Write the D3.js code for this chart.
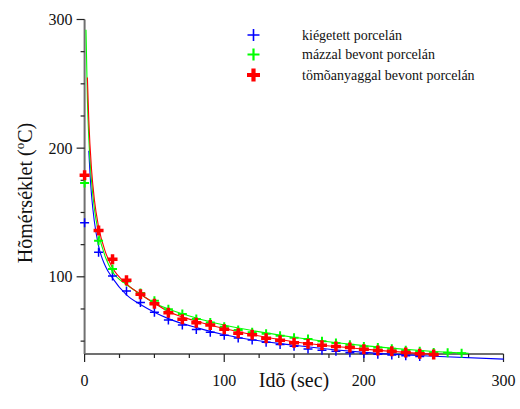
<!DOCTYPE html>
<html><head><meta charset="utf-8">
<script src="https://cdn.jsdelivr.net/npm/d3@7"></script>
<style>html,body{margin:0;padding:0;background:#fff}</style>
</head><body>
<svg id="c" width="520" height="409"></svg>
<script>
// ---- data ----
const seriesNames = ["kiégetett porcelán", "mázzal bevont porcelán", "tömõanyaggal bevont porcelán"];
const blueT = [0,10,20,30,40,50,60,70,80,90,100,110,120,130,140,150,160,170,180,190,200,210,220,230,240];
const blueV = [142,119,100.7,89,80,72.5,66.5,62.5,59,57,54.5,52.4,50.8,49.2,47.3,46,43.8,43,42.2,41,40.3,39.8,39.2,38.6,38];
const greenT = [0,10,20,30,40,50,60,70,80,90,100,110,120,130,140,150,160,170,180,190,200,210,220,230,240,250,260,270];
const greenV = [173,128,106,96.4,87.5,81.3,74.8,71,67.3,64.4,61.2,58.6,57,55.7,54.1,52.6,51.6,49.9,48.6,47.1,45.9,45,44.1,42.9,42.2,41.2,40.9,40.5];
const redT = [0,10,20,30,40,50,60,70,80,90,100,110,120,130,140,150,160,170,180,190,200,210,220,230,240,250];
const redV = [179,136,113.7,97.4,86.5,79,72,67,64.3,62.5,59.3,56.1,55,52.2,50.6,48.7,48,46.8,45.9,45.1,43.6,42.8,42.2,41.2,40.2,39.6];
// fitted curves
const blueCurveT = [3,4,5,7,10,15,20,30,40,50,60,80,100,150,200,250,300];
const blueCurveV = [198,178,163,143,124,108,99,86,78.5,72.5,67.5,60.5,55,46.8,41.3,38.3,36];
const greenCurveT = [1,2,3,5,7,10,15,20,30,40,50,60,80,100,150,200,250,275];
const greenCurveV = [292,238,208,174,153,134,115,104,94,86.5,79.5,75,68,62.5,53,46.5,42,40.5];
const redCurveT = [2,3,5,7,10,15,20,30,40,50,60,80,100,150,200,250];
const redCurveV = [255,222,183,160,139,119,107,94.5,86.5,79.5,73,65.5,59.8,49.5,43.8,39.8];
const xTickLabels = [0,100,200,300];
const yTickLabels = [100,200,300];
const xTitle = "Idõ (sec)";
const yTitleMain = "Hõmérséklet (";
const yTitleSup = "o";
const yTitleEnd = "C)";

// ---- drawing ----
const svg = d3.select("#c");
const font = "'Liberation Serif','Times New Roman',serif";
const x = d3.scaleLinear().domain([0,300]).range([84.6,503.5]);
const y = d3.scaleLinear().domain([40,300]).range([354,19.5]);

const styles = [
  {color:"#0000ff", w:1.5, size:4.5, lw:1.6, lsize:6},
  {color:"#00ff00", w:2, size:4.5, lw:2.2, lsize:6},
  {color:"#ff0000", w:3.5, size:5, lw:4.2, lsize:6.5}
];
const pts = [[blueT,blueV],[greenT,greenV],[redT,redV]];
const curves = [[blueCurveT,blueCurveV],[greenCurveT,greenCurveV],[redCurveT,redCurveV]];

// axes
const xAxisG = svg.append("g");
const yAxisG = svg.append("g");
const minorX = d3.range(0,301,25);
const minorY = d3.range(50,301,25);
yAxisG.append("line").attr("x1",x(0)).attr("x2",x(0)).attr("y1",y(40)).attr("y2",y(300))
  .attr("stroke","#707070").attr("stroke-width",2);
xAxisG.append("line").attr("x1",x(0)).attr("x2",x(300)).attr("y1",y(40)).attr("y2",y(40))
  .attr("stroke","#707070").attr("stroke-width",2);
minorY.forEach(v=>{
  const major = yTickLabels.includes(v);
  yAxisG.append("line").attr("x1",x(0)).attr("x2",x(0)-(major?8:4))
    .attr("y1",y(v)).attr("y2",y(v)).attr("stroke","#222").attr("stroke-width",1.2);
});
minorX.forEach(v=>{
  const major = xTickLabels.includes(v);
  xAxisG.append("line").attr("x1",x(v)).attr("x2",x(v))
    .attr("y1",y(40)).attr("y2",y(40)+(major?8:4)).attr("stroke","#222").attr("stroke-width",1.2);
});
yTickLabels.forEach(v=>{
  yAxisG.append("text").attr("x",x(0)-12).attr("y",y(v)).attr("dy","0.35em")
    .attr("text-anchor","end").attr("font-family",font).attr("font-size",16).attr("fill","#111").text(v);
});
xTickLabels.forEach(v=>{
  xAxisG.append("text").attr("x",x(v)).attr("y",386)
    .attr("text-anchor","middle").attr("font-family",font).attr("font-size",16).attr("fill","#111").text(v);
});
svg.append("text").attr("x",294).attr("y",387).attr("text-anchor","middle")
  .attr("font-family",font).attr("font-size",20).attr("fill","#111").text(xTitle);
const yt = svg.append("text").attr("transform","translate(32,193) rotate(-90)").attr("text-anchor","middle")
  .attr("font-family",font).attr("font-size",20).attr("fill","#111");
yt.append("tspan").text(yTitleMain);
yt.append("tspan").attr("font-size",13).attr("dy",-8).text(yTitleSup);
yt.append("tspan").attr("dy",8).text(yTitleEnd);

// curves
const line = d3.line().x(d=>x(d[0])).y(d=>y(d[1])).curve(d3.curveMonotoneX);
curves.forEach((c,i)=>{
  const data = c[0].map((t,j)=>[t,c[1][j]]);
  svg.append("path").datum(data).attr("d",line).attr("fill","none")
    .attr("stroke",styles[i].color).attr("stroke-width",1.1);
});

// markers
const plus = s => `M${-s},0H${s}M0,${-s}V${s}`;
pts.forEach((p,i)=>{
  const st = styles[i];
  svg.append("g").selectAll("path").data(p[0].map((t,j)=>[t,p[1][j]])).join("path")
    .attr("transform",d=>`translate(${x(d[0])},${y(d[1])})`)
    .attr("d",plus(st.size)).attr("stroke",st.color).attr("stroke-width",st.w).attr("fill","none");
});

// legend
const legY = [35,54.5,75];
seriesNames.forEach((n,i)=>{
  const st = styles[i];
  svg.append("path").attr("transform",`translate(253.5,${legY[i]})`).attr("d",plus(st.lsize))
    .attr("stroke",st.color).attr("stroke-width",st.lw).attr("fill","none");
  svg.append("text").attr("x",302).attr("y",legY[i]).attr("dy","0.33em")
    .attr("font-family",font).attr("font-size",14).attr("fill","#111").text(n);
});
</script>
</body></html>
